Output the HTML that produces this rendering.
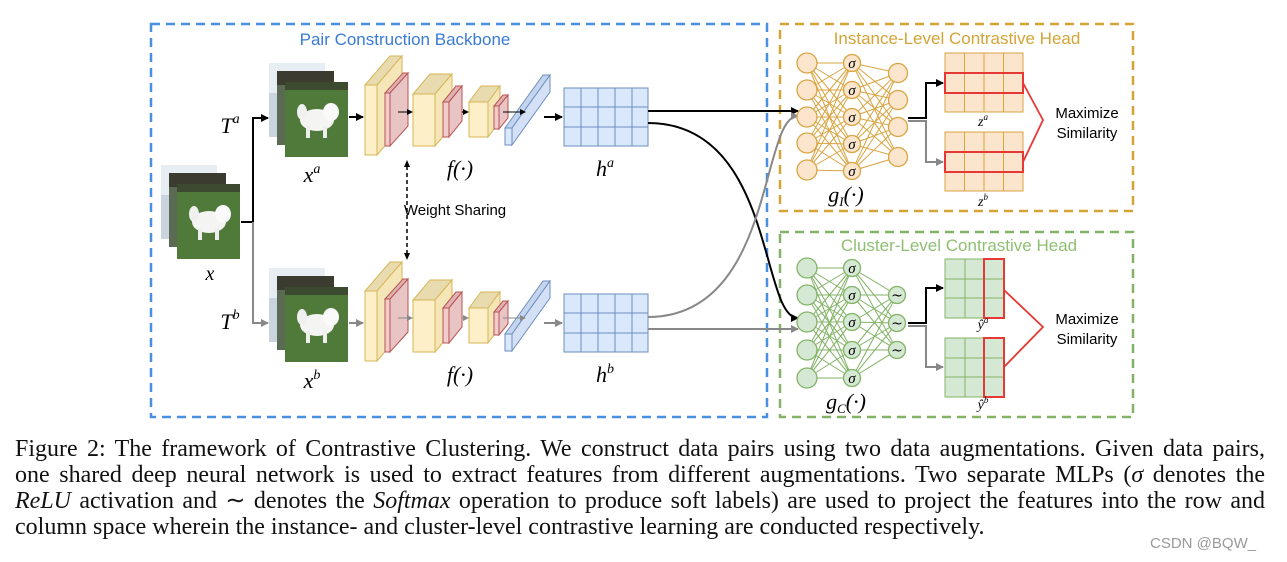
<!DOCTYPE html>
<html><head><meta charset="utf-8"><style>
html,body{margin:0;padding:0;background:#fff;width:1287px;height:562px;overflow:hidden}
svg{position:absolute;left:0;top:0}
.cap{position:absolute;left:15px;width:1250px;font-family:"Liberation Serif",serif;font-size:24px;color:#111;line-height:26px;white-space:nowrap}
.j{text-align:justify;text-align-last:justify}
.m{font-family:"Liberation Serif",serif;font-style:italic}
</style></head><body>
<svg width="1287" height="562" viewBox="0 0 1287 562" xmlns="http://www.w3.org/2000/svg">
<defs>
<marker id="ab" markerWidth="8" markerHeight="8" refX="7" refY="4" orient="auto" markerUnits="userSpaceOnUse"><path d="M0 0L8 4L0 8z" fill="#000"/></marker>
<marker id="ag" markerWidth="8" markerHeight="8" refX="7" refY="4" orient="auto" markerUnits="userSpaceOnUse"><path d="M0 0L8 4L0 8z" fill="#888"/></marker>
<marker id="as" markerWidth="6" markerHeight="6" refX="5" refY="3" orient="auto" markerUnits="userSpaceOnUse"><path d="M0 0L6 3L0 6z" fill="#000"/></marker>
<marker id="asg" markerWidth="6" markerHeight="6" refX="5" refY="3" orient="auto" markerUnits="userSpaceOnUse"><path d="M0 0L6 3L0 6z" fill="#888"/></marker>
<g id="dog">
<rect x="0" y="0" width="63" height="75" fill="#4f7a3a"/>
<rect x="0" y="0" width="63" height="8" fill="#3c4a30"/>
<ellipse cx="32" cy="38" rx="17" ry="11" fill="#f4f4f2"/>
<ellipse cx="46" cy="30" rx="8" ry="9" fill="#fafafa"/>
<ellipse cx="17" cy="30" rx="5" ry="8" fill="#f0f0f0"/>
<rect x="21" y="44" width="4" height="12" fill="#eee"/><rect x="38" y="44" width="4" height="12" fill="#eee"/>
</g>
<g id="stack">
<rect x="0" y="0" width="56" height="74" fill="#c9d4de"/>
<rect x="0" y="0" width="56" height="30" fill="#e6edf3"/>
<rect x="8" y="8" width="57" height="74" fill="#5b6a52"/>
<rect x="8" y="8" width="57" height="14" fill="#3b3b30"/>
<use href="#dog" x="16" y="19"/>
</g>
<g id="conv">
<polygon points="365,85 377,85 402,56 390,56" fill="#e9dbb0" stroke="#d6b656"/>
<polygon points="377,85 402,56 402,126 377,155" fill="#f5e6b8" stroke="#d6b656"/>
<rect x="365" y="85" width="12" height="70" fill="#fdf0c8" stroke="#d6b656"/>
<polygon points="385,93 390,93 408,73 403,73" fill="#dfb3b3" stroke="#b85450"/>
<polygon points="390,93 408,73 408,126 390,146" fill="#e8c4c4" stroke="#b85450"/>
<rect x="385" y="93" width="5" height="53" fill="#f0cccc" stroke="#b85450"/>
<polygon points="413,94 435,94 452,74 430,74" fill="#e9dbb0" stroke="#d6b656"/>
<polygon points="435,94 452,74 452,126 435,146" fill="#f5e6b8" stroke="#d6b656"/>
<rect x="413" y="94" width="22" height="52" fill="#fdf0c8" stroke="#d6b656"/>
<polygon points="443,102 449,102 462,86 456,86" fill="#dfb3b3" stroke="#b85450"/>
<polygon points="449,102 462,86 462,121 449,137" fill="#e8c4c4" stroke="#b85450"/>
<rect x="443" y="102" width="6" height="35" fill="#f0cccc" stroke="#b85450"/>
<polygon points="469,102 488,102 500,86 481,86" fill="#e9dbb0" stroke="#d6b656"/>
<polygon points="488,102 500,86 500,121 488,137" fill="#f5e6b8" stroke="#d6b656"/>
<rect x="469" y="102" width="19" height="35" fill="#fdf0c8" stroke="#d6b656"/>
<polygon points="494,106 499,106 508,95 503,95" fill="#dfb3b3" stroke="#b85450"/>
<polygon points="499,106 508,95 508,118 499,129" fill="#e8c4c4" stroke="#b85450"/>
<rect x="494" y="106" width="5" height="23" fill="#f0cccc" stroke="#b85450"/>
<polygon points="505,128 512,128 550,75 543,75" fill="#c5d5ee" stroke="#6c8ebf"/>
<polygon points="512,128 550,75 550,92 512,145" fill="#d3e0f5" stroke="#6c8ebf"/>
<rect x="505" y="128" width="7" height="17" fill="#dae8fc" stroke="#6c8ebf"/>
<g stroke="#6c8ebf" fill="none"><rect x="564" y="88" width="84" height="58" fill="#dae8fc"/>
<path d="M581 88V146M598 88V146M615 88V146M632 88V146M564 107H648M564 127H648"/></g>
</g>
</defs>

<rect x="151" y="24" width="616" height="393" fill="none" stroke="#4a90e2" stroke-width="2.5" stroke-dasharray="9,6"/>
<rect x="780" y="24" width="353" height="187" fill="none" stroke="#d4a437" stroke-width="2.5" stroke-dasharray="9,6"/>
<rect x="780" y="232" width="353" height="185" fill="none" stroke="#82b366" stroke-width="2.5" stroke-dasharray="9,6"/>
<g font-family="Liberation Sans,sans-serif" font-size="17" text-anchor="middle">
<text x="405" y="45" fill="#3a7bd5">Pair Construction Backbone</text>
<text x="957" y="44" fill="#d4a437">Instance-Level Contrastive Head</text>
<text x="959" y="251" fill="#8fbf72">Cluster-Level Contrastive Head</text>
</g>

<use href="#stack" x="161" y="165"/>
<text x="210" y="280" font-family="Liberation Serif,serif" font-style="italic" font-size="20" text-anchor="middle">x</text>
<path d="M241 222H253V118H268" fill="none" stroke="#000" stroke-width="2" marker-end="url(#ab)"/>
<path d="M253 222V323H268" fill="none" stroke="#888" stroke-width="2" marker-end="url(#ag)"/>
<g font-family="Liberation Serif,serif" font-style="italic" font-size="22" text-anchor="middle">
<text x="230" y="133">T<tspan font-size="14" dy="-10">a</tspan></text>
<text x="230" y="329">T<tspan font-size="14" dy="-10">b</tspan></text>
<text x="312" y="182">x<tspan font-size="14" dy="-9">a</tspan></text>
<text x="312" y="388">x<tspan font-size="14" dy="-9">b</tspan></text>
<text x="460" y="176">f(·)</text>
<text x="460" y="382">f(·)</text>
<text x="605" y="176">h<tspan font-size="14" dy="-9">a</tspan></text>
<text x="605" y="382">h<tspan font-size="14" dy="-9">b</tspan></text>
<text x="846" y="202">g<tspan font-size="13" dy="4">I</tspan><tspan dy="-4">(·)</tspan></text>
<text x="846" y="409">g<tspan font-size="13" dy="4">C</tspan><tspan dy="-4">(·)</tspan></text>
</g>
<use href="#stack" x="269" y="63"/>
<use href="#stack" x="269" y="268"/>

<use href="#conv"/>
<use href="#conv" y="206"/>
<g stroke="#000" stroke-width="2" fill="none">
<path d="M349 117H363" marker-end="url(#ab)"/>
<path d="M544 117H562" marker-end="url(#ab)"/>
</g>
<g stroke="#000" stroke-width="1" fill="none">
<path d="M398 112H412" marker-end="url(#as)"/><path d="M462 112H468" marker-end="url(#as)"/><path d="M503 112H525" marker-end="url(#as)"/>
</g>
<g stroke="#888" stroke-width="2" fill="none">
<path d="M349 323H363" marker-end="url(#ag)"/>
<path d="M544 323H562" marker-end="url(#ag)"/>
</g>
<g stroke="#888" stroke-width="1" fill="none">
<path d="M398 318H412" marker-end="url(#asg)"/><path d="M462 318H468" marker-end="url(#asg)"/><path d="M503 318H525" marker-end="url(#asg)"/>
</g>
<path d="M407 166V253" stroke="#000" stroke-width="1.5" stroke-dasharray="4,3" fill="none"/>
<path d="M407 160l-3 7h6z M407 260l-3 -7h6z" fill="#000"/>
<text x="455" y="215" font-family="Liberation Sans,sans-serif" font-size="15" text-anchor="middle">Weight Sharing</text>

<path d="M648 111H798" stroke="#000" stroke-width="2" fill="none" marker-end="url(#ab)"/>
<path d="M648 123C775 123 760 318 798 318" stroke="#000" stroke-width="2" fill="none" marker-end="url(#ab)"/>
<path d="M648 317C775 317 760 116 798 116" stroke="#888" stroke-width="2" fill="none" marker-end="url(#ag)"/>
<path d="M648 329H798" stroke="#888" stroke-width="2" fill="none" marker-end="url(#ag)"/>

<g stroke="#d9a441" stroke-width="1" fill="none">
<path d="M807 63L852 63M807 63L852 90M807 63L852 117M807 63L852 144M807 63L852 171M807 90L852 63M807 90L852 90M807 90L852 117M807 90L852 144M807 90L852 171M807 117L852 63M807 117L852 90M807 117L852 117M807 117L852 144M807 117L852 171M807 143L852 63M807 143L852 90M807 143L852 117M807 143L852 144M807 143L852 171M807 170L852 63M807 170L852 90M807 170L852 117M807 170L852 144M807 170L852 171"/>
<path d="M852 63L898 73M852 63L898 100M852 63L898 127M852 63L898 157M852 90L898 73M852 90L898 100M852 90L898 127M852 90L898 157M852 117L898 73M852 117L898 100M852 117L898 127M852 117L898 157M852 144L898 73M852 144L898 100M852 144L898 127M852 144L898 157M852 171L898 73M852 171L898 100M852 171L898 127M852 171L898 157"/>
</g>
<g fill="#fbe5cc" stroke="#d9a441" stroke-width="1.3">
<circle cx="807" cy="63" r="10"/><circle cx="807" cy="90" r="10"/><circle cx="807" cy="117" r="10"/><circle cx="807" cy="143" r="10"/><circle cx="807" cy="170" r="10"/>
<circle cx="852" cy="63" r="8.5"/><circle cx="852" cy="90" r="8.5"/><circle cx="852" cy="117" r="8.5"/><circle cx="852" cy="144" r="8.5"/><circle cx="852" cy="171" r="8.5"/>
<circle cx="898" cy="73" r="9.5"/><circle cx="898" cy="100" r="9.5"/><circle cx="898" cy="127" r="9.5"/><circle cx="898" cy="157" r="9.5"/>
</g>
<g stroke="#82b366" stroke-width="1" fill="none">
<path d="M807 268L852 268M807 268L852 295M807 268L852 322M807 268L852 350M807 268L852 378M807 295L852 268M807 295L852 295M807 295L852 322M807 295L852 350M807 295L852 378M807 322L852 268M807 322L852 295M807 322L852 322M807 322L852 350M807 322L852 378M807 350L852 268M807 350L852 295M807 350L852 322M807 350L852 350M807 350L852 378M807 378L852 268M807 378L852 295M807 378L852 322M807 378L852 350M807 378L852 378"/>
<path d="M852 268L897 295M852 268L897 323M852 268L897 350M852 295L897 295M852 295L897 323M852 295L897 350M852 322L897 295M852 322L897 323M852 322L897 350M852 350L897 295M852 350L897 323M852 350L897 350M852 378L897 295M852 378L897 323M852 378L897 350"/>
</g>
<g fill="#d5e8d4" stroke="#82b366" stroke-width="1.3">
<circle cx="807" cy="268" r="10"/><circle cx="807" cy="295" r="10"/><circle cx="807" cy="322" r="10"/><circle cx="807" cy="350" r="10"/><circle cx="807" cy="378" r="10"/>
<circle cx="852" cy="268" r="8.5"/><circle cx="852" cy="295" r="8.5"/><circle cx="852" cy="322" r="8.5"/><circle cx="852" cy="350" r="8.5"/><circle cx="852" cy="378" r="8.5"/>
<circle cx="897" cy="295" r="8.5"/><circle cx="897" cy="323" r="8.5"/><circle cx="897" cy="350" r="8.5"/>
</g>
<g font-family="Liberation Serif,serif" font-style="italic" font-size="15" text-anchor="middle">
<text x="852" y="68">σ</text><text x="852" y="95">σ</text><text x="852" y="122">σ</text><text x="852" y="149">σ</text><text x="852" y="176">σ</text>
<text x="852" y="273">σ</text><text x="852" y="300">σ</text><text x="852" y="327">σ</text><text x="852" y="355">σ</text><text x="852" y="383">σ</text>
</g>
<g font-family="DejaVu Sans,sans-serif" font-size="14" text-anchor="middle">
<text x="897" y="300">~</text><text x="897" y="328">~</text><text x="897" y="355">~</text>
</g>

<path d="M908 118H926V83H943" fill="none" stroke="#000" stroke-width="2" marker-end="url(#ab)"/>
<path d="M908 121H926V162H943" fill="none" stroke="#888" stroke-width="2" marker-end="url(#ag)"/>
<path d="M908 323H926V288H943" fill="none" stroke="#000" stroke-width="2" marker-end="url(#ab)"/>
<path d="M908 326H926V367H943" fill="none" stroke="#888" stroke-width="2" marker-end="url(#ag)"/>

<g stroke="#d9a441" fill="none">
<rect x="945" y="53" width="78" height="59" fill="#fbe5cc"/>
<path d="M964.5 53V112M984 53V112M1003.5 53V112M945 73H1023M945 93H1023"/>
<rect x="945" y="132" width="78" height="59" fill="#fbe5cc"/>
<path d="M964.5 132V191M984 132V191M1003.5 132V191M945 152H1023M945 172H1023"/>
</g>
<rect x="945" y="73" width="78" height="20" fill="none" stroke="#e53935" stroke-width="2"/>
<rect x="945" y="152" width="78" height="20" fill="none" stroke="#e53935" stroke-width="2"/>
<path d="M1023 83L1043 120L1023 162" fill="none" stroke="#e53935" stroke-width="1.8"/>
<g stroke="#82b366" fill="none">
<rect x="945" y="259" width="59" height="59" fill="#d5e8d4"/>
<path d="M965 259V318M984 259V318M945 279H1004M945 298H1004"/>
<rect x="945" y="338" width="59" height="59" fill="#d5e8d4"/>
<path d="M965 338V397M984 338V397M945 358H1004M945 377H1004"/>
</g>
<rect x="984" y="259" width="20" height="59" fill="none" stroke="#e53935" stroke-width="2"/>
<rect x="984" y="338" width="20" height="59" fill="none" stroke="#e53935" stroke-width="2"/>
<path d="M1004 290L1043 327L1004 367" fill="none" stroke="#e53935" stroke-width="1.8"/>
<g font-family="Liberation Sans,sans-serif" font-size="15" text-anchor="middle">
<text x="1087" y="118">Maximize</text><text x="1087" y="138">Similarity</text>
<text x="1087" y="324">Maximize</text><text x="1087" y="344">Similarity</text>
</g>
<g font-family="Liberation Serif,serif" font-style="italic" font-size="14" text-anchor="middle">
<text x="983" y="126">z<tspan font-size="9" dy="-6">a</tspan></text>
<text x="983" y="206">z<tspan font-size="9" dy="-6">b</tspan></text>
<text x="983" y="329">ŷ<tspan font-size="9" dy="-6">a</tspan></text>
<text x="983" y="409">ŷ<tspan font-size="9" dy="-6">b</tspan></text>
</g>
</svg>

<div class="cap j" style="top:436px">Figure 2: The framework of Contrastive Clustering. We construct data pairs using two data augmentations. Given data pairs,</div>
<div class="cap j" style="top:462px">one shared deep neural network is used to extract features from different augmentations. Two separate MLPs (<span class="m">σ</span> denotes the</div>
<div class="cap j" style="top:488px"><i>ReLU</i> activation and ∼ denotes the <i>Softmax</i> operation to produce soft labels) are used to project the features into the row and</div>
<div class="cap" style="top:514px">column space wherein the instance- and cluster-level contrastive learning are conducted respectively.</div>
<div style="position:absolute;left:1150px;top:535px;font-family:'Liberation Sans',sans-serif;font-size:15px;color:#999">CSDN @BQW_</div>
</body></html>
